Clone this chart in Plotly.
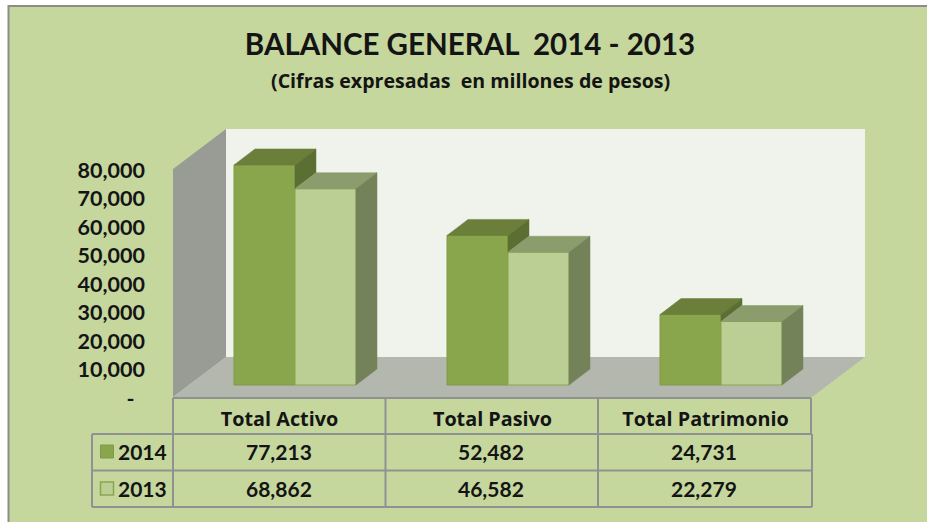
import plotly.graph_objects as go

categories = ["Total Activo", "Total Pasivo", "Total Patrimonio"]
values_2014 = [77213, 52482, 24731]
values_2013 = [68862, 46582, 22279]
series_names = ["2014", "2013"]
tick_values = [0, 10000, 20000, 30000, 40000, 50000, 60000, 70000, 80000]
tick_labels = ["-\u00a0\u00a0", "10,000", "20,000", "30,000", "40,000", "50,000", "60,000", "70,000", "80,000"]
title_text = "BALANCE GENERAL  2014 - 2013"
subtitle_text = "(Cifras expresadas  en millones de pesos)"

W, H = 927, 522
FONT = "Lato"
WIDE = "Open Sans"
INK = "#141414"
BG = "#c5d79d"
GRID = "#8f9292"

# scales: one category = 213 px, 10,000 units = 28.5 px
PX_PER_CAT = 213.0
PX_PER_UNIT = 228.0 / 80000
X0_PX, Y0_PX = 279.5, 397.0


def X(px):
    return (px - X0_PX) / PX_PER_CAT


def YU(px):  # pixel length to value units
    return px / PX_PER_UNIT


def pX(px):
    return px / W


def pY(py):
    return 1 - py / H


wall_dx, wall_dy = 53 / PX_PER_CAT, YU(40)
bar_dx, bar_dy = 21 / PX_PER_CAT, YU(16)
bar_base = YU(12)
bar_w = 61 / PX_PER_CAT
off_a, off_b = -45.5 / PX_PER_CAT, 15.5 / PX_PER_CAT


def poly(xs, ys, color):
    return go.Scatter(
        x=xs + xs[:1], y=ys + ys[:1], mode="lines", fill="toself", fillcolor=color,
        line=dict(color=color, width=0.5), hoverinfo="skip", showlegend=False,
    )


fig = go.Figure()

fig.add_trace(go.Bar(
    x=list(range(3)), y=values_2014, base=[bar_base] * 3, width=bar_w, offset=off_a,
    name=series_names[0], marker=dict(color="#8aa64d", line=dict(color="#7f9a45", width=1)),
))
fig.add_trace(go.Bar(
    x=list(range(3)), y=values_2013, base=[bar_base] * 3, width=bar_w, offset=off_b,
    name=series_names[1], marker=dict(color="#bbce94", line=dict(color="#8aa64d", width=1)),
))
fig.update_layout(barmode="overlay")

for i in range(3):
    a, b = values_2014[i] + bar_base, values_2013[i] + bar_base
    xa0, xa1 = i + off_a, i + off_a + bar_w
    xb0, xb1 = i + off_b, i + off_b + bar_w
    # 2014 top and the part of its side that rises above the 2013 bar
    fig.add_trace(poly([xa0, xa1, xa1 + bar_dx, xa0 + bar_dx], [a, a, a + bar_dy, a + bar_dy], "#6b7f3a"))
    fig.add_trace(poly([xa1, xa1 + bar_dx, xa1 + bar_dx, xa1], [a, a + bar_dy, b + bar_dy, b], "#5c6f33"))
    # 2013 top and side
    fig.add_trace(poly([xb0, xb1, xb1 + bar_dx, xb0 + bar_dx], [b, b, b + bar_dy, b + bar_dy], "#8b9c6d"))
    fig.add_trace(poly([xb1, xb1 + bar_dx, xb1 + bar_dx, xb1],
                       [b, b + bar_dy, bar_base + bar_dy, bar_base], "#748259"))

L, R = -0.5, 2.5
TOP = tick_values[-1]
shapes = [
    # card: only its top and left edges fall inside the picture
    dict(type="rect", xref="paper", yref="paper", x0=pX(8.5), x1=pX(W + 6), y0=pY(6), y1=pY(H + 6),
         line=dict(color="#8c8c8c", width=2), fillcolor=BG, layer="below"),
    # back wall
    dict(type="rect", xref="x", yref="y", x0=L + wall_dx, x1=R + wall_dx, y0=wall_dy, y1=TOP + wall_dy,
         line=dict(width=0), fillcolor="#eff3ec", layer="below"),
    # left wall
    dict(type="path", xref="x", yref="y", layer="below", line=dict(width=0), fillcolor="#999c94",
         path=f"M {L} 0 L {L} {TOP} L {L + wall_dx} {TOP + wall_dy} L {L + wall_dx} {wall_dy} Z"),
    # floor
    dict(type="path", xref="x", yref="y", layer="below", line=dict(width=0), fillcolor="#b4b7ae",
         path=f"M {L} 0 L {L + wall_dx} {wall_dy} L {R + wall_dx} {wall_dy} L {R} 0 Z"),
]


def hline(y, x0, x1):
    shapes.append(dict(type="line", xref="paper", yref="paper", x0=pX(x0), x1=pX(x1), y0=pY(y), y1=pY(y),
                       line=dict(color=GRID, width=2)))


def vline(x, y0, y1):
    shapes.append(dict(type="line", xref="paper", yref="paper", x0=pX(x), x1=pX(x), y0=pY(y0), y1=pY(y1),
                       line=dict(color=GRID, width=2)))


hline(398, 173, 811)
for y in (434, 470.5, 507):
    hline(y, 92, 812)
vline(92, 434, 507)
vline(173, 398, 507)
vline(385.5, 398, 507)
vline(598, 398, 507)
vline(811, 398, 434)
vline(812, 434, 507)

# legend keys
shapes.append(dict(type="rect", xref="paper", yref="paper", x0=pX(100.5), x1=pX(113.5), y0=pY(445), y1=pY(458),
                   fillcolor="#8aa64d", line=dict(color="#7f9a45", width=1)))
shapes.append(dict(type="rect", xref="paper", yref="paper", x0=pX(100.5), x1=pX(113.5), y0=pY(482), y1=pY(495),
                   fillcolor="#bbce94", line=dict(color="#8aa64d", width=1.5)))

annotations = [dict(
    text=f"<b>{subtitle_text}</b>", xref="paper", yref="paper", x=pX(470), y=pY(81), showarrow=False,
    font=dict(family=WIDE, size=19.6, color=INK), xanchor="center", yanchor="middle",
)]
col_px = [279, 491, 704]
for row_y, name, vals in ((451, series_names[0], values_2014), (488, series_names[1], values_2013)):
    annotations.append(dict(text=f"<b>{name}</b>", xref="paper", yref="paper", x=pX(116), y=pY(row_y),
                            showarrow=False, xanchor="left", yanchor="middle",
                            font=dict(family=FONT, size=21, color=INK)))
    for cx, v in zip(col_px, vals):
        annotations.append(dict(text=f"<b>{v:,}</b>", xref="paper", yref="paper", x=pX(cx), y=pY(row_y),
                                showarrow=False, xanchor="center", yanchor="middle",
                                font=dict(family=FONT, size=21, color=INK)))

fig.update_layout(
    width=W, height=H, margin=dict(l=0, r=0, t=0, b=0),
    paper_bgcolor="white", plot_bgcolor="rgba(0,0,0,0)", showlegend=False,
    title=dict(text=f"<b>{title_text}</b>", x=pX(470), y=pY(45), xanchor="center", yanchor="middle",
               xref="paper", yref="paper", font=dict(family=FONT, size=29.5, color=INK)),
    xaxis=dict(range=[X(0), X(W)], domain=[0, 1], anchor="free", position=pY(398), tickmode="array",
               tickvals=list(range(3)), ticktext=[f"<b>{c}</b>" for c in categories],
               showgrid=False, zeroline=False, showline=False, ticks="", ticklabelstandoff=7,
               tickfont=dict(family=WIDE, size=19.8, color=INK)),
    yaxis=dict(range=[-YU(H - Y0_PX), YU(Y0_PX)], domain=[0, 1], anchor="free", position=pX(145), tickmode="array",
               tickvals=tick_values, ticktext=[f"<b>{t}</b>" for t in tick_labels],
               showgrid=False, zeroline=False, showline=False, ticks="", ticklabelshift=1,
               tickfont=dict(family=FONT, size=21.5, color=INK)),
    shapes=shapes, annotations=annotations,
)

fig.write_html("out.html", config={"displayModeBar": False}, post_script="document.body.style.margin='0';")
